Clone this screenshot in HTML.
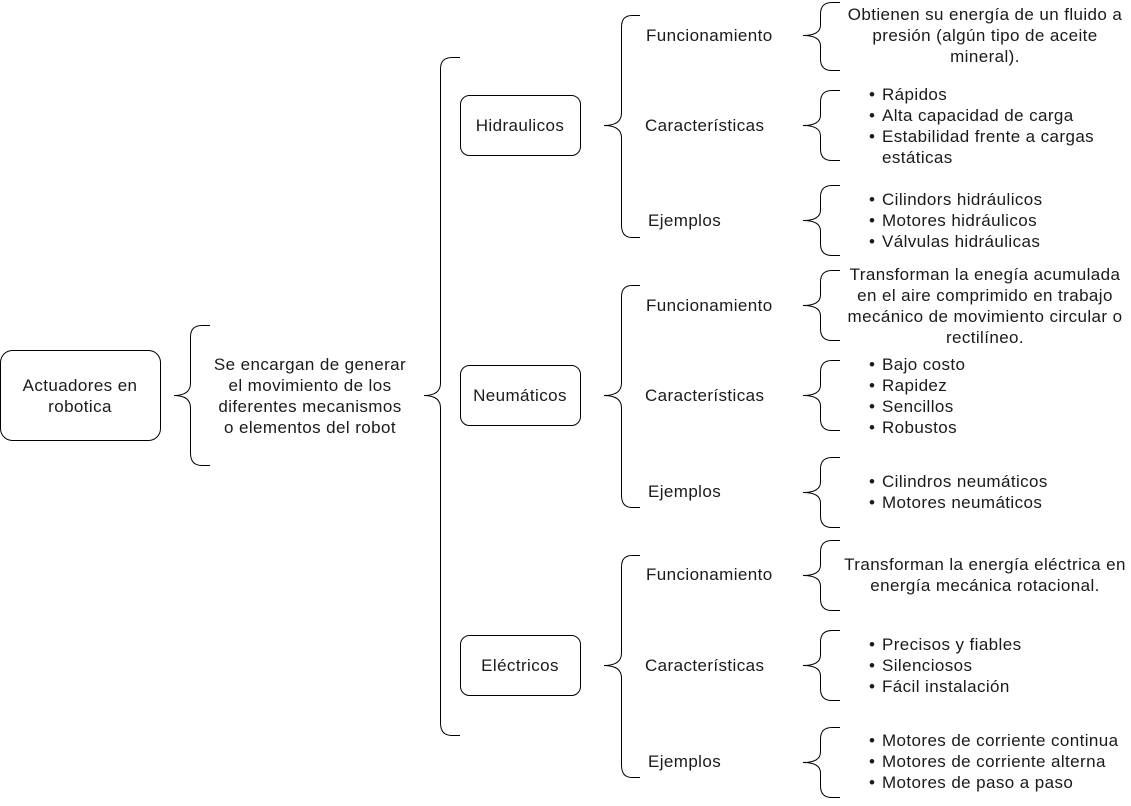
<!DOCTYPE html>
<html><head><meta charset="utf-8"><style>
html,body{margin:0;padding:0;background:#fff;}
svg{display:block;}
text{font-family:"Liberation Sans",Arial,sans-serif;font-size:17px;letter-spacing:0.4px;fill:#1a1a1a;}
.c{text-anchor:middle;}
path,rect{fill:none;stroke:#000;stroke-width:1;}
</style></head><body>
<svg width="1131" height="806" viewBox="0 0 1131 806" xmlns="http://www.w3.org/2000/svg">
<rect x="0.5" y="350.5" width="160" height="90" rx="12"/>
<rect x="460.5" y="95.5" width="120" height="60" rx="9"/>
<rect x="460.5" y="365.5" width="120" height="60" rx="9"/>
<rect x="460.5" y="635.5" width="120" height="60" rx="9"/>
<path d="M210 325.5 H202 Q190.5 325.5 190.5 337 V383 Q190.5 395.5 174 395.5 Q190.5 395.5 190.5 408 V453 Q190.5 465.5 202 465.5 H210"/>
<path d="M460 57.5 H452 Q440.5 57.5 440.5 69 V383 Q440.5 395.5 424 395.5 Q440.5 395.5 440.5 408 V723 Q440.5 735.5 452 735.5 H460"/>
<path d="M640 15.5 H632 Q621.5 15.5 621.5 27 V113 Q621.5 125.5 604 125.5 Q621.5 125.5 621.5 138 V225 Q621.5 237.5 632 237.5 H640"/>
<path d="M640 285.5 H632 Q621.5 285.5 621.5 297 V383 Q621.5 395.5 604 395.5 Q621.5 395.5 621.5 408 V495 Q621.5 507.5 632 507.5 H640"/>
<path d="M640 555.5 H632 Q621.5 555.5 621.5 567 V653 Q621.5 665.5 604 665.5 Q621.5 665.5 621.5 678 V765 Q621.5 777.5 632 777.5 H640"/>
<g>
<path d="M840 2.5 H832 Q820.5 2.5 820.5 14 V25 Q820.5 35.5 803 35.5 Q820.5 35.5 820.5 46 V59 Q820.5 70.5 832 70.5 H840"/>
<path d="M840 90.5 H832 Q820.5 90.5 820.5 102 V115 Q820.5 125.5 803 125.5 Q820.5 125.5 820.5 136 V149 Q820.5 160.5 832 160.5 H840"/>
<path d="M840 185.5 H832 Q820.5 185.5 820.5 197 V210 Q820.5 220.5 803 220.5 Q820.5 220.5 820.5 231 V244 Q820.5 255.5 832 255.5 H840"/>
<path d="M840 270.5 H832 Q820.5 270.5 820.5 282 V295 Q820.5 305.5 803 305.5 Q820.5 305.5 820.5 316 V329 Q820.5 340.5 832 340.5 H840"/>
<path d="M840 360.5 H832 Q820.5 360.5 820.5 372 V385 Q820.5 395.5 803 395.5 Q820.5 395.5 820.5 406 V419 Q820.5 430.5 832 430.5 H840"/>
<path d="M840 457.5 H832 Q820.5 457.5 820.5 469 V482 Q820.5 492.5 803 492.5 Q820.5 492.5 820.5 503 V516 Q820.5 527.5 832 527.5 H840"/>
<path d="M840 540.5 H832 Q820.5 540.5 820.5 552 V565 Q820.5 575.5 803 575.5 Q820.5 575.5 820.5 586 V599 Q820.5 610.5 832 610.5 H840"/>
<path d="M840 630.5 H832 Q820.5 630.5 820.5 642 V655 Q820.5 665.5 803 665.5 Q820.5 665.5 820.5 676 V689 Q820.5 700.5 832 700.5 H840"/>
<path d="M840 727.5 H832 Q820.5 727.5 820.5 739 V752 Q820.5 762.5 803 762.5 Q820.5 762.5 820.5 773 V786 Q820.5 797.5 832 797.5 H840"/>
</g>
<text class="c" x="80" y="391">Actuadores en</text>
<text class="c" x="80" y="412">robotica</text>
<text class="c" x="310" y="370">Se encargan de generar</text>
<text class="c" x="310" y="391">el movimiento de los</text>
<text class="c" x="310" y="412">diferentes mecanismos</text>
<text class="c" x="310" y="433">o elementos del robot</text>
<text class="c" x="520" y="131">Hidraulicos</text>
<text class="c" x="520" y="401">Neumáticos</text>
<text class="c" x="520" y="671">Eléctricos</text>
<text x="646" y="41">Funcionamiento</text>
<text x="645" y="131">Características</text>
<text x="648" y="226">Ejemplos</text>
<text x="646" y="311">Funcionamiento</text>
<text x="645" y="401">Características</text>
<text x="648" y="497">Ejemplos</text>
<text x="646" y="580">Funcionamiento</text>
<text x="645" y="671">Características</text>
<text x="648" y="767">Ejemplos</text>
<text class="c" x="985" y="20">Obtienen su energía de un fluido a</text>
<text class="c" x="985" y="41">presión (algún tipo de aceite</text>
<text class="c" x="985" y="62">mineral).</text>
<g>
<text x="869" y="100">•</text><text x="882" y="100">Rápidos</text>
<text x="869" y="121">•</text><text x="882" y="121">Alta capacidad de carga</text>
<text x="869" y="142">•</text><text x="882" y="142">Estabilidad frente a cargas</text>
<text x="882" y="163">estáticas</text>
<text x="869" y="205">•</text><text x="882" y="205">Cilindors hidráulicos</text>
<text x="869" y="226">•</text><text x="882" y="226">Motores hidráulicos</text>
<text x="869" y="247">•</text><text x="882" y="247">Válvulas hidráulicas</text>
</g>
<text class="c" x="985" y="280">Transforman la enegía acumulada</text>
<text class="c" x="985" y="301">en el aire comprimido en trabajo</text>
<text class="c" x="985" y="322">mecánico de movimiento circular o</text>
<text class="c" x="985" y="343">rectilíneo.</text>
<g>
<text x="869" y="370">•</text><text x="882" y="370">Bajo costo</text>
<text x="869" y="391">•</text><text x="882" y="391">Rapidez</text>
<text x="869" y="412">•</text><text x="882" y="412">Sencillos</text>
<text x="869" y="433">•</text><text x="882" y="433">Robustos</text>
<text x="869" y="487">•</text><text x="882" y="487">Cilindros neumáticos</text>
<text x="869" y="508">•</text><text x="882" y="508">Motores neumáticos</text>
</g>
<text class="c" x="985" y="570">Transforman la energía eléctrica en</text>
<text class="c" x="985" y="591">energía mecánica rotacional.</text>
<g>
<text x="869" y="650">•</text><text x="882" y="650">Precisos y fiables</text>
<text x="869" y="671">•</text><text x="882" y="671">Silenciosos</text>
<text x="869" y="692">•</text><text x="882" y="692">Fácil instalación</text>
<text x="869" y="746">•</text><text x="882" y="746">Motores de corriente continua</text>
<text x="869" y="767">•</text><text x="882" y="767">Motores de corriente alterna</text>
<text x="869" y="788">•</text><text x="882" y="788">Motores de paso a paso</text>
</g>
</svg>
</body></html>
